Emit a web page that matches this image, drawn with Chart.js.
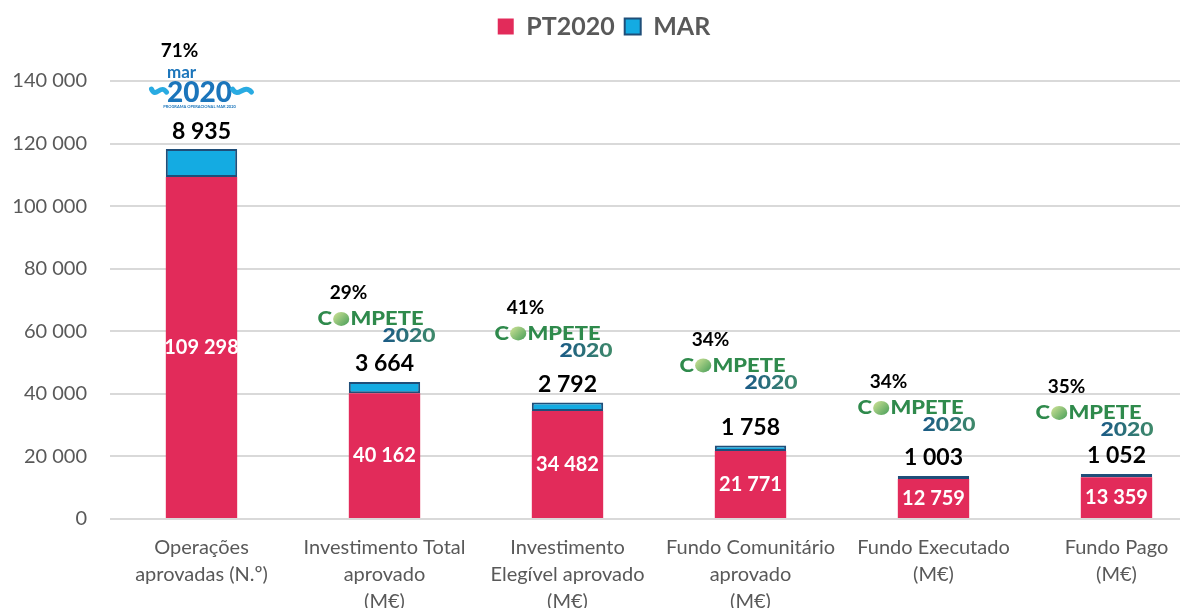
<!DOCTYPE html>
<html>
<head>
<meta charset="utf-8">
<script src="https://cdn.jsdelivr.net/npm/chart.js@4/dist/chart.umd.min.js"></script>
<style>
  html, body { margin: 0; padding: 0; background: #fff; overflow: hidden; }
  #wrap { width: 1208px; height: 608px; }
</style>
</head>
<body>
<div id="wrap"><canvas id="chart" width="1208" height="608"></canvas></div>
<script>
// chart values
var categories = [
    ['Operações', 'aprovadas (N.º)'],
    ['Investimento Total', 'aprovado', '(M€)'],
    ['Investimento', 'Elegível aprovado', '(M€)'],
    ['Fundo Comunitário', 'aprovado', '(M€)'],
    ['Fundo Executado', '(M€)'],
    ['Fundo Pago', '(M€)']
];
var pt2020 = [109298, 40162, 34482, 21771, 12759, 13359];
var mar = [8935, 3664, 2792, 1758, 1003, 1052];
var shares = ['71%', '29%', '41%', '34%', '34%', '35%'];
var programmes = ['mar', 'compete', 'compete', 'compete', 'compete', 'compete'];

var FONT = 'Lato, "Open Sans", sans-serif';

function fmt(v) {
    return String(v).replace(/\B(?=(\d{3})+(?!\d))/g, ' ');
}

// empty box under the legend so the plot starts lower
var spacer = {
    id: 'spacer',
    beforeInit: function(chart) {
        Chart.layouts.addBox(chart, {
            position: 'top', weight: 1, fullSize: true, options: {},
            isHorizontal: function() { return true; },
            update: function(w) { this.width = w; this.height = 32; },
            draw: function() {}
        });
    }
};

function drawMar(ctx, cx, cy) {
    ctx.save();
    ctx.textAlign = 'center';
    ctx.textBaseline = 'middle';
    ctx.fillStyle = '#1b75bb';
    ctx.font = 'bold 17px ' + FONT;
    ctx.fillText('mar', cx - 18, cy - 19);
    ctx.font = '900 28px ' + FONT;
    ctx.fillText('2020', cx, cy + 2);
    // waves either side
    ctx.strokeStyle = '#29abe2';
    ctx.lineWidth = 5;
    ctx.lineCap = 'round';
    [[-48, -33], [33, 52]].forEach(function(s) {
        var x0 = cx + s[0], x1 = cx + s[1], w = x1 - x0;
        ctx.beginPath();
        ctx.moveTo(x0, cy - 2);
        ctx.bezierCurveTo(x0 + w * 0.3, cy + 8, x0 + w * 0.6, cy - 8, x1, cy + 1);
        ctx.stroke();
    });
    ctx.font = 'bold 4px ' + FONT;
    ctx.fillStyle = '#1b75bb';
    ctx.fillText('PROGRAMA OPERACIONAL MAR 2020', cx, cy + 16);
    ctx.restore();
}

function drawCompete(ctx, left, cy) {
    ctx.save();
    ctx.textBaseline = 'middle';
    ctx.textAlign = 'left';
    ctx.font = '900 19px ' + FONT;
    var wC = ctx.measureText('C').width;
    var wO = 16;
    var wRest = ctx.measureText('MPETE').width;
    var total = wC + wO + wRest;
    ctx.translate(left, cy);
    ctx.scale(106 / total, 1);
    ctx.fillStyle = '#2f8a4c';
    ctx.fillText('C', 0, 0);
    var g = ctx.createLinearGradient(wC, -7, wC + wO, 7);
    g.addColorStop(0, '#d8e79a');
    g.addColorStop(1, '#3f9a55');
    ctx.fillStyle = g;
    ctx.beginPath();
    ctx.arc(wC + wO / 2, 0, 7, 0, Math.PI * 2);
    ctx.fill();
    ctx.fillStyle = '#2f8a4c';
    ctx.fillText('MPETE', wC + wO, 0);
    ctx.restore();

    ctx.save();
    ctx.textBaseline = 'middle';
    ctx.textAlign = 'right';
    ctx.font = '900 19px ' + FONT;
    var w2 = ctx.measureText('2020').width;
    ctx.translate(left + 118, cy + 17);
    ctx.scale(53 / w2, 1);
    var g2 = ctx.createLinearGradient(-w2, 0, 0, 0);
    g2.addColorStop(0, '#1a5a86');
    g2.addColorStop(1, '#3f8a6a');
    ctx.fillStyle = g2;
    ctx.fillText('2020', 0, 0);
    ctx.restore();
}

var labelsPlugin = {
    id: 'barLabels',
    afterDatasetsDraw: function(chart, args, opts) {
        var ctx = chart.ctx;
        var m0 = chart.getDatasetMeta(0);
        var m1 = chart.getDatasetMeta(1);
        ctx.save();
        ctx.textAlign = 'center';
        ctx.textBaseline = 'middle';

        m0.data.forEach(function(el, i) {
            ctx.fillStyle = '#ffffff';
            ctx.font = 'bold 20px ' + FONT;
            ctx.fillText(fmt(pt2020[i]), el.x, (el.y + el.base) / 2);
        });

        m1.data.forEach(function(el, i) {
            ctx.fillStyle = '#000000';
            ctx.font = 'bold 23px ' + FONT;
            ctx.fillText(fmt(mar[i]), el.x, el.y - 18);

            var off = opts.logoOffsets[i];
            var ax = el.x + off[0], ay = el.y + off[1];
            ctx.font = 'bold 19px ' + FONT;
            ctx.fillStyle = '#000000';
            if (programmes[i] === 'mar') {
                drawMar(ctx, ax, ay);
                ctx.fillText(shares[i], ax - 20, ay - 40);
            } else {
                drawCompete(ctx, ax, ay);
                ctx.fillText(shares[i], ax + 31, ay - 26);
            }
        });
        ctx.restore();
    }
};

new Chart(document.getElementById('chart'), {
    type: 'bar',
    data: {
        labels: categories,
        datasets: [
            {
                label: 'PT2020',
                data: pt2020,
                backgroundColor: '#e22b5a',
                borderWidth: 0,
                barPercentage: 0.39,
                categoryPercentage: 1
            },
            {
                label: 'MAR',
                data: mar,
                backgroundColor: '#14abe2',
                borderColor: '#1f4e79',
                borderWidth: 2,
                borderSkipped: false,
                barPercentage: 0.39,
                categoryPercentage: 1
            }
        ]
    },
    plugins: [spacer, labelsPlugin],
    options: {
        responsive: false,
        animation: false,
        layout: { padding: { top: 4, left: 0, right: 0, bottom: 0 } },
        plugins: {
            legend: {
                position: 'top',
                labels: {
                    boxWidth: 16,
                    boxHeight: 16,
                    padding: 10,
                    color: '#595959',
                    font: { family: FONT, size: 25, weight: 'bold' }
                }
            },
            tooltip: { enabled: false },
            barLabels: {
                logoOffsets: [[-2, -58], [-67, -63], [-73, -69], [-71, -80], [-76, -68], [-81, -61]]
            }
        },
        scales: {
            x: {
                stacked: true,
                grid: { display: false, drawTicks: false },
                border: { display: false },
                ticks: {
                    color: '#595959',
                    font: { family: FONT, size: 20, lineHeight: 1.35 },
                    padding: 15,
                    maxRotation: 0,
                    autoSkip: false
                },
                afterFit: function(scale) { scale.height = 89; }
            },
            y: {
                stacked: true,
                min: 0,
                max: 140000,
                grid: { color: '#d9d9d9', lineWidth: 2, drawTicks: false },
                border: { display: false },
                ticks: {
                    stepSize: 20000,
                    color: '#595959',
                    font: { family: FONT, size: 20 },
                    padding: 23,
                    callback: function(v) { return fmt(v); }
                },
                afterFit: function(scale) { scale.width = 110; }
            }
        }
    }
});
</script>
</body>
</html>
